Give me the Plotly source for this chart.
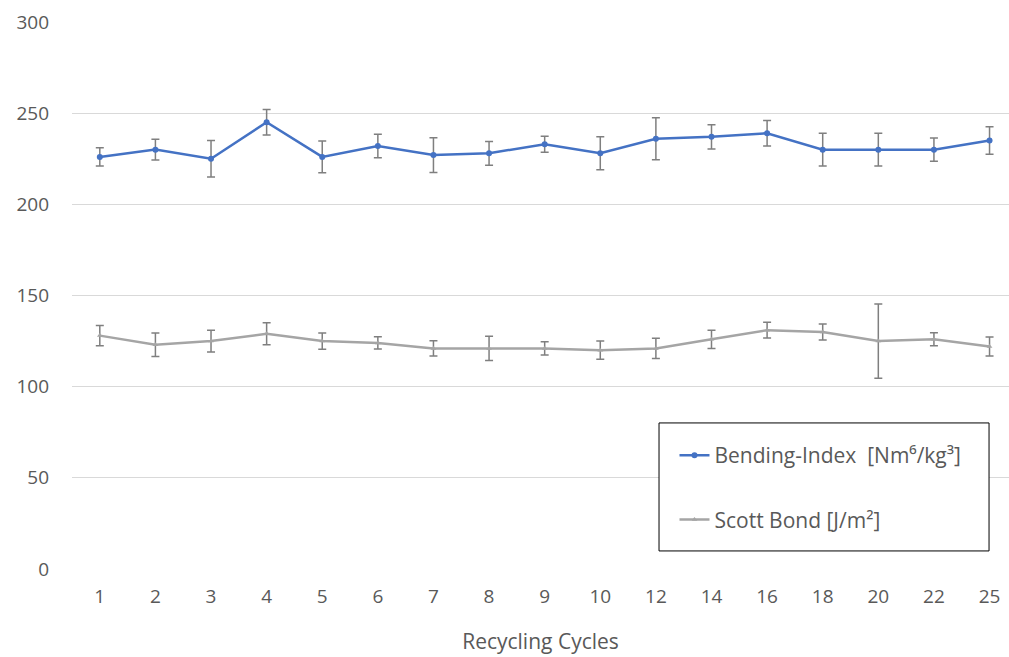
import plotly.graph_objects as go

cycles = ["1", "2", "3", "4", "5", "6", "7", "8", "9", "10", "12", "14", "16", "18", "20", "22", "25"]

bending_index = [226, 230, 225, 245, 226, 232, 227, 228, 233, 228, 236, 237, 239, 230, 230, 230, 235]
bending_err = [5, 5.7, 10, 7, 8.7, 6.5, 9.5, 6.5, 4.4, 9, 11.5, 6.6, 7, 9, 9, 6.4, 7.5]

scott_bond = [128, 123, 125, 129, 125, 124, 121, 121, 121, 120, 121, 126, 131, 130, 125, 126, 122]
scott_err = [5.5, 6.4, 6, 6, 4.5, 3.4, 4.2, 6.7, 3.6, 5, 5.5, 5, 4.3, 4.4, 20.4, 3.6, 5.2]

FONT = "Open Sans"
TEXT = "#595959"
ERR = "#7F7F7F"

fig = go.Figure()

fig.add_trace(go.Scatter(
    x=cycles, y=bending_index,
    mode="lines+markers",
    name="Bending-Index  [Nm⁶/kg³]",
    line=dict(color="#4472C4", width=2.5),
    marker=dict(color="#4472C4", size=6),
    error_y=dict(type="data", array=bending_err, visible=True,
                 color=ERR, thickness=1.5, width=4),
    legendgroup="a",
))

fig.add_trace(go.Scatter(
    x=cycles, y=scott_bond,
    mode="lines+markers",
    name="Scott Bond [J/m²]",
    line=dict(color="#A5A5A5", width=2.5),
    marker=dict(color="#A5A5A5", size=5, symbol="triangle-up"),
    error_y=dict(type="data", array=scott_err, visible=True,
                 color=ERR, thickness=1.5, width=4),
    legendgroup="b",
))

# framed legend box
fig.add_shape(type="rect", xref="paper", yref="paper",
              x0=0.6265, x1=0.9787, y0=0.033, y1=0.267,
              line=dict(color="#000000", width=1), fillcolor="white", layer="above")

fig.update_layout(
    width=1009, height=657,
    margin=dict(l=72, r=0, t=22, b=88),
    paper_bgcolor="white", plot_bgcolor="white",
    font=dict(family=FONT, color=TEXT, size=19),
    showlegend=True,
    legend=dict(
        x=0.643, y=0.245, xanchor="left", yanchor="top",
        bgcolor="rgba(0,0,0,0)", borderwidth=0,
        font=dict(family=FONT, size=21, color=TEXT),
        traceorder="grouped", tracegroupgap=34,
        itemwidth=30,
    ),
    xaxis=dict(
        type="category", range=[-0.5, 16.35],
        showgrid=False, showline=False, zeroline=False,
        ticks="", ticklabelstandoff=14,
        tickfont=dict(family=FONT, size=19, color=TEXT),
        title=dict(text="Recycling Cycles", standoff=26,
                   font=dict(family=FONT, size=21, color=TEXT)),
    ),
    yaxis=dict(
        range=[0, 300], dtick=50,
        showgrid=True, gridcolor="#D9D9D9", gridwidth=1,
        zeroline=False, showline=False,
        ticks="", ticklabelstandoff=22,
        tickfont=dict(family=FONT, size=19, color=TEXT),
    ),
)

fig.write_html("out.html")
